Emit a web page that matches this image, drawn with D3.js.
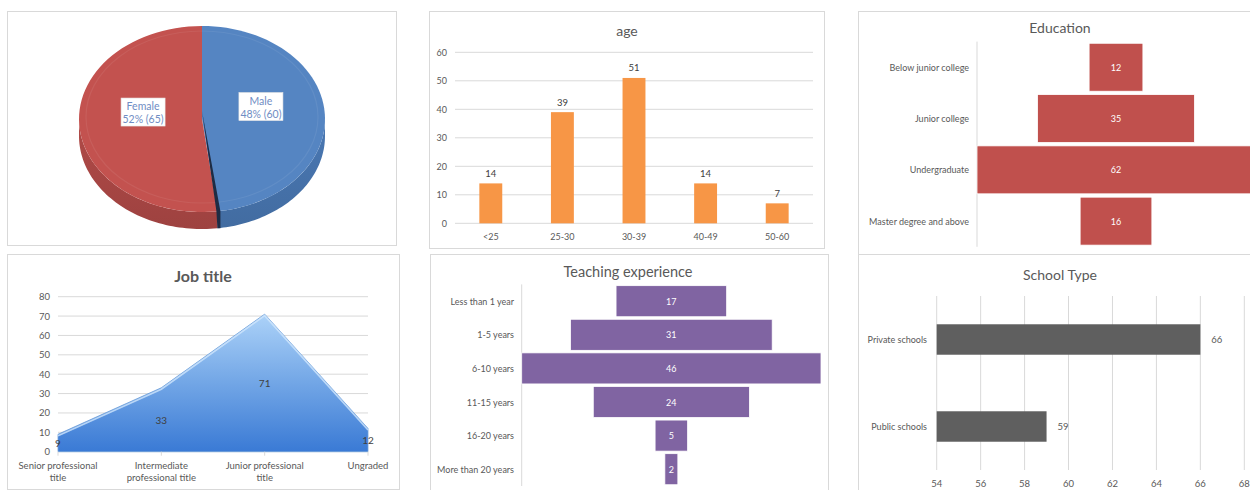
<!DOCTYPE html>
<html><head><meta charset="utf-8">
<script src="https://cdn.jsdelivr.net/npm/d3@7"></script>
<style>
body{margin:0;background:#fff;}
svg{display:block;font-family:Lato, "Open Sans", sans-serif;}
</style></head><body>
<svg id="c" width="1250" height="490"></svg>
<script>
// ---------- DATA ----------
const genderLabels = ["Male", "Female"];
const genderValues = [60, 65];
const genderPercents = ["48%", "52%"];

const ageCategories = ["<25", "25-30", "30-39", "40-49", "50-60"];
const ageValues = [14, 39, 51, 14, 7];
const ageTicks = [0, 10, 20, 30, 40, 50, 60];

const eduCategories = ["Below junior college", "Junior college", "Undergraduate", "Master degree and above"];
const eduValues = [12, 35, 62, 16];

const jobCategories = ["Senior professional title", "Intermediate professional title", "Junior professional title", "Ungraded"];
const jobLabelLines = [["Senior professional", "title"], ["Intermediate", "professional title"], ["Junior professional", "title"], ["Ungraded"]];
const jobValues = [9, 33, 71, 12];
const jobTicks = [0, 10, 20, 30, 40, 50, 60, 70, 80];

const teachCategories = ["Less than 1 year", "1-5 years", "6-10 years", "11-15 years", "16-20 years", "More than 20 years"];
const teachValues = [17, 31, 46, 24, 5, 2];

const schoolCategories = ["Private schools", "Public schools"];
const schoolValues = [66, 59];
const schoolTicks = [54, 56, 58, 60, 62, 64, 66, 68];

// ---------- STYLE ----------
const AXIS = "#595959", VAL = "#404040", GRID = "#d9d9d9", BORDER = "#d9d9d9";
const svg = d3.select("#c");
const defs = svg.append("defs");

function box(x0, y0, x1, y1) {
  svg.append("rect").attr("x", x0).attr("y", y0).attr("width", x1 - x0).attr("height", y1 - y0)
    .attr("fill", "#fff").attr("stroke", BORDER).attr("stroke-width", 1);
}
function title(txt, x, y, size, bold) {
  svg.append("text").attr("x", x).attr("y", y).attr("text-anchor", "middle")
    .attr("dominant-baseline", "central").attr("font-size", size)
    .attr("font-weight", bold ? "bold" : "normal").attr("fill", AXIS).text(txt);
}

// ---------- BOXES ----------
box(7.5, 11.5, 396.5, 245.5);
box(429.5, 11.5, 824.5, 248.5);
box(858.5, 11.5, 1262, 254.5);
box(7.5, 254.5, 399.5, 489.5);
box(430.5, 254.5, 828.5, 496);
box(858.5, 254.5, 1262, 496);

// ---------- PIE (3D) ----------
(function () {
  const cx = 202, cy = 119, rx = 123, ry = 93, depth = 17;
  const pie = d3.pie().sort(null).value(d => d)(genderValues);
  const topC = ["#5585c2", "#c3524f"], sideC = ["#4a78b3", "#b04a47"];
  const px = a => cx + rx * Math.sin(a), py = a => cy - ry * Math.cos(a);
  const arcPts = (a0, a1, dy) => d3.range(0, 61).map(i => {
    const a = a0 + (a1 - a0) * i / 60; return [px(a), py(a) + dy];
  });
  const line = d3.line();
  // side walls
  pie.forEach((s, i) => {
    const a0 = Math.max(s.startAngle, Math.PI / 2), a1 = Math.min(s.endAngle, Math.PI * 1.5);
    if (a1 <= a0) return;
    const pts = arcPts(a0, a1, 0).concat(arcPts(a0, a1, depth).reverse());
    const gid = "side" + i;
    const g = defs.append("linearGradient").attr("id", gid).attr("x1", 0).attr("y1", 0).attr("x2", 0).attr("y2", 1);
    g.append("stop").attr("offset", 0).attr("stop-color", sideC[i]);
    g.append("stop").attr("offset", 1).attr("stop-color", d3.color(sideC[i]).darker(0.3));
    svg.append("path").attr("d", line(pts) + "Z").attr("fill", "url(#" + gid + ")");
  });
  // top faces
  pie.forEach((s, i) => {
    const pts = [[cx, cy]].concat(arcPts(s.startAngle, s.endAngle, 0));
    svg.append("path").attr("d", line(pts) + "Z").attr("fill", topC[i]);
  });
  // inner bevel ring
  svg.append("ellipse").attr("cx", cx).attr("cy", cy - 2).attr("rx", rx - 7).attr("ry", ry - 7)
    .attr("fill", "none").attr("stroke", "#ffffff").attr("stroke-opacity", 0.07).attr("stroke-width", 1.2);
  // dark wall at the split
  const a = pie[0].endAngle;
  svg.append("path").attr("d", line([[cx, cy - 8], [px(a) + 3, py(a)], [px(a) + 3, py(a) + depth], [px(a), py(a) + depth], [px(a) - 1, py(a)]]) + "Z")
    .attr("fill", "#1e2c44");
  // labels
  pie.forEach((s, i) => {
    const m = (s.startAngle + s.endAngle) / 2;
    const lx = cx + rx * 0.48 * Math.sin(m), ly = (cy - 9.7) - ry * 0.47 * Math.cos(m);
    const g = svg.append("g");
    g.append("rect").attr("x", lx - 22).attr("y", ly - 14).attr("width", 44).attr("height", 28)
      .attr("fill", "#fff").attr("stroke", "#e6e6e6").attr("stroke-width", 0.6);
    g.append("text").attr("x", lx).attr("y", ly - 6).attr("text-anchor", "middle").attr("dominant-baseline", "central")
      .attr("font-size", 10.5).attr("fill", "#6f8dc4").text(genderLabels[i]);
    g.append("text").attr("x", lx).attr("y", ly + 7).attr("text-anchor", "middle").attr("dominant-baseline", "central")
      .attr("font-size", 10.5).attr("fill", "#6f8dc4").text(genderPercents[i] + " (" + genderValues[i] + ")");
  });
})();

// ---------- AGE ----------
(function () {
  title("age", 627, 30, 14);
  const x = d3.scaleBand().domain(ageCategories).range([455, 813]).paddingInner(0.68).paddingOuter(0.34);
  const y = d3.scaleLinear().domain([0, 60]).range([223.3, 52.3]);
  const g = svg.append("g");
  g.selectAll("line.grid").data(ageTicks).join("line").attr("x1", 455).attr("x2", 813)
    .attr("y1", d => y(d)).attr("y2", d => y(d)).attr("stroke", GRID);
  g.selectAll("text.yt").data(ageTicks).join("text").attr("x", 447).attr("y", d => y(d))
    .attr("text-anchor", "end").attr("dominant-baseline", "central").attr("font-size", 9).attr("fill", AXIS).text(d => d);
  g.selectAll("rect").data(ageValues).join("rect").attr("x", (d, i) => x(ageCategories[i])).attr("width", x.bandwidth())
    .attr("y", d => y(d)).attr("height", d => y(0) - y(d)).attr("fill", "#f79646");
  g.selectAll("text.v").data(ageValues).join("text").attr("x", (d, i) => x(ageCategories[i]) + x.bandwidth() / 2)
    .attr("y", d => y(d) - 10).attr("text-anchor", "middle").attr("dominant-baseline", "central")
    .attr("font-size", 9.5).attr("fill", VAL).text(d => d);
  g.selectAll("text.xt").data(ageCategories).join("text").attr("x", d => x(d) + x.bandwidth() / 2).attr("y", 236)
    .attr("text-anchor", "middle").attr("dominant-baseline", "central").attr("font-size", 9).attr("fill", AXIS).text(d => d);
})();

// ---------- FUNNEL helper ----------
function funnel(cats, vals, x0, x1, y0, y1, labelX, color, pad, fs) {
  const max = d3.max(vals);
  const x = d3.scaleLinear().domain([0, max]).range([x0, x1]);
  const y = d3.scaleBand().domain(cats).range([y0, y1]).paddingInner(pad).paddingOuter(pad / 2);
  const g = svg.append("g");
  g.append("line").attr("x1", x0).attr("x2", x0).attr("y1", y0).attr("y2", y1).attr("stroke", GRID);
  g.selectAll("rect").data(vals).join("rect")
    .attr("x", d => x((max - d) / 2)).attr("width", d => x((max + d) / 2) - x((max - d) / 2))
    .attr("y", (d, i) => y(cats[i])).attr("height", y.bandwidth())
    .attr("fill", color).attr("stroke", "#fff").attr("stroke-width", 0.8);
  g.selectAll("text.v").data(vals).join("text").attr("x", x(max / 2)).attr("y", (d, i) => y(cats[i]) + y.bandwidth() / 2)
    .attr("text-anchor", "middle").attr("dominant-baseline", "central").attr("font-size", fs).attr("fill", "#fff").text(d => d);
  g.selectAll("text.c").data(cats).join("text").attr("x", labelX).attr("y", d => y(d) + y.bandwidth() / 2)
    .attr("text-anchor", "end").attr("dominant-baseline", "central").attr("font-size", fs).attr("fill", AXIS).text(d => d);
}

// ---------- EDUCATION ----------
title("Education", 1060, 27, 14);
funnel(eduCategories, eduValues, 977, 1255, 41.6, 246.8, 969, "#c0504d", 0.065, 9);

// ---------- TEACHING ----------
title("Teaching experience", 628, 271, 14.5);
funnel(teachCategories, teachValues, 521.7, 821, 284.4, 486, 514, "#8064a2", 0.075, 9);

// ---------- JOB TITLE ----------
(function () {
  title("Job title", 203, 275, 16, true);
  const x = d3.scalePoint().domain(jobCategories).range([58, 368]);
  const y = d3.scaleLinear().domain([0, 80]).range([451.7, 296.7]);
  const g = svg.append("g");
  g.selectAll("line.grid").data(jobTicks).join("line").attr("x1", 58).attr("x2", 368)
    .attr("y1", d => y(d)).attr("y2", d => y(d)).attr("stroke", GRID);
  g.selectAll("text.yt").data(jobTicks).join("text").attr("x", 50).attr("y", d => y(d))
    .attr("text-anchor", "end").attr("dominant-baseline", "central").attr("font-size", 9.5).attr("fill", AXIS).text(d => d);
  const grad = defs.append("linearGradient").attr("id", "jobg").attr("gradientUnits", "userSpaceOnUse")
    .attr("x1", 0).attr("x2", 0).attr("y1", y(d3.max(jobValues))).attr("y2", y(0));
  grad.append("stop").attr("offset", 0).attr("stop-color", "#acd2f8");
  grad.append("stop").attr("offset", 0.5).attr("stop-color", "#72a6e6");
  grad.append("stop").attr("offset", 1).attr("stop-color", "#3a7ad5");
  const pts = jobValues.map((v, i) => [x(jobCategories[i]), v]);
  const area = d3.area().x(d => d[0]).y0(y(0)).y1(d => y(d[1]));
  g.append("path").attr("d", area(pts)).attr("fill", "url(#jobg)").attr("stroke", "#6f9fd9").attr("stroke-width", 0.8);
  const ln = d3.line().x(d => d[0]).y(d => y(d[1]) + 1.5);
  g.append("path").attr("d", ln(pts)).attr("fill", "none").attr("stroke", "#cfe6fd").attr("stroke-width", 1.6).attr("stroke-opacity", 0.8);
  // x axis ticks
  g.selectAll("line.xt").data(jobCategories).join("line").attr("x1", d => x(d)).attr("x2", d => x(d))
    .attr("y1", y(0)).attr("y2", y(0) + 4).attr("stroke", GRID);
  g.selectAll("text.v").data(jobValues).join("text").attr("x", (d, i) => x(jobCategories[i])).attr("y", d => y(d / 2))
    .attr("text-anchor", "middle").attr("dominant-baseline", "central").attr("font-size", 10).attr("fill", VAL).text(d => d);
  jobLabelLines.forEach((lines, i) => {
    lines.forEach((t, j) => {
      g.append("text").attr("x", x(jobCategories[i])).attr("y", 465 + j * 12.5).attr("text-anchor", "middle")
        .attr("dominant-baseline", "central").attr("font-size", 9.5).attr("fill", AXIS).text(t);
    });
  });
})();

// ---------- SCHOOL TYPE ----------
(function () {
  title("School Type", 1060, 274, 14);
  const x = d3.scaleLinear().domain([54, 68]).range([936.7, 1244.3]);
  const y = d3.scaleBand().domain(schoolCategories).range([296, 470]).paddingInner(0.65).paddingOuter(0.325);
  const g = svg.append("g");
  g.selectAll("line.grid").data(schoolTicks).join("line").attr("x1", d => x(d)).attr("x2", d => x(d))
    .attr("y1", 296).attr("y2", 470).attr("stroke", GRID);
  g.selectAll("text.xt").data(schoolTicks).join("text").attr("x", d => x(d)).attr("y", 483)
    .attr("text-anchor", "middle").attr("dominant-baseline", "central").attr("font-size", 9.5).attr("fill", AXIS).text(d => d);
  g.selectAll("rect").data(schoolValues).join("rect").attr("x", x(54)).attr("width", d => x(d) - x(54))
    .attr("y", (d, i) => y(schoolCategories[i])).attr("height", y.bandwidth()).attr("fill", "#5f5f5f");
  g.selectAll("text.v").data(schoolValues).join("text").attr("x", d => x(d) + 11).attr("y", (d, i) => y(schoolCategories[i]) + y.bandwidth() / 2)
    .attr("dominant-baseline", "central").attr("font-size", 9.5).attr("fill", AXIS).text(d => d);
  g.selectAll("text.c").data(schoolCategories).join("text").attr("x", 927).attr("y", d => y(d) + y.bandwidth() / 2)
    .attr("text-anchor", "end").attr("dominant-baseline", "central").attr("font-size", 9).attr("fill", AXIS).text(d => d);
})();
</script>
</body></html>
